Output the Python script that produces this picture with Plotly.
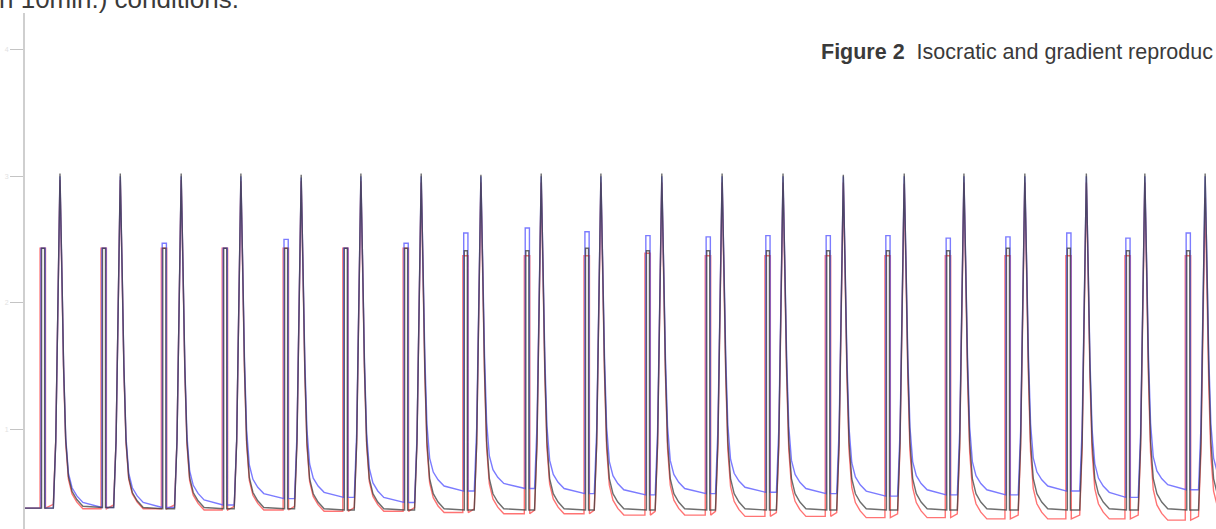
import plotly.graph_objects as go

# ---- data (time in min, detector response in AU) ----
pulse_start = [2.5, 12.6, 22.6, 32.7, 42.8, 52.7, 62.7, 72.6, 82.8, 92.7,
               102.8, 112.8, 122.7, 132.7, 142.6, 152.6, 162.5, 172.6, 182.4, 192.4]
peak_time = [5.8, 15.8, 25.9, 35.8, 45.8, 55.7, 65.7, 75.6, 85.6, 95.5,
             105.6, 115.6, 125.7, 135.7, 145.8, 155.7, 165.8, 176.0, 185.7, 195.7]

blue_pulse = [2.43, 2.43, 2.47, 2.43, 2.50, 2.43, 2.47, 2.55, 2.59, 2.56,
              2.53, 2.52, 2.53, 2.53, 2.53, 2.51, 2.52, 2.55, 2.51, 2.55]
black_pulse = [2.43, 2.43, 2.43, 2.43, 2.43, 2.43, 2.43, 2.41, 2.41, 2.43,
               2.41, 2.41, 2.41, 2.41, 2.41, 2.41, 2.43, 2.43, 2.41, 2.41]
red_pulse = [2.43, 2.43, 2.43, 2.43, 2.43, 2.43, 2.43, 2.37, 2.37, 2.37,
             2.39, 2.37, 2.37, 2.37, 2.37, 2.37, 2.37, 2.37, 2.37, 2.37]

blue_peak = [3.00, 3.00, 3.00, 3.00, 2.99, 3.00, 3.00, 3.00, 3.00, 3.00,
             3.00, 3.00, 3.00, 3.00, 3.00, 3.00, 3.00, 3.00, 3.00, 3.00]
black_peak = [3.02, 3.02, 3.02, 3.02, 3.01, 3.02, 3.02, 3.01, 3.02, 3.02,
              3.02, 3.02, 3.02, 3.01, 3.02, 3.02, 3.02, 3.02, 3.02, 3.02]
red_peak = [2.97, 2.97, 2.97, 2.96, 2.96, 2.96, 2.95, 2.95, 2.95, 2.95,
            2.95, 2.95, 2.95, 2.95, 2.94, 2.95, 2.95, 2.95, 2.95, 2.83]

blue_base = [0.38, 0.38, 0.40, 0.45, 0.46, 0.42, 0.51, 0.53, 0.49, 0.48,
             0.49, 0.50, 0.49, 0.47, 0.48, 0.48, 0.51, 0.46, 0.52, 0.51]
black_base = [0.38, 0.37, 0.37, 0.37, 0.36, 0.36, 0.36, 0.36, 0.36, 0.36,
              0.36, 0.36, 0.36, 0.36, 0.36, 0.36, 0.36, 0.36, 0.36, 0.36]
red_base = [0.37, 0.37, 0.36, 0.36, 0.35, 0.35, 0.34, 0.33, 0.33, 0.32,
            0.32, 0.31, 0.31, 0.30, 0.30, 0.29, 0.29, 0.29, 0.28, 0.28]

start_level = [0.375, 0.375, 0.375]          # blue, black, red
pre_peak_step = [0.0, 0.0, 0.03]             # small rise before each peak
tail_hold = [0.04, 0.01, 0.0]                # level just after the tail
pulse_offset = [0.15, 0.25, 0.0]
pulse_width = [0.7, 0.5, 0.9]

# peak profile read from one injection (offset from apex in min, fraction of height)
lead_off = [-1.1, -0.7, -0.35, 0.0]
lead_frac = [0.0, 0.2, 0.62, 1.0]
tail_off = [0.3, 0.6, 0.95, 1.4, 2.0, 2.8, 3.8]
tail_frac = [0.72, 0.42, 0.2, 0.09, 0.045, 0.02, 0.0]

x_end = 197.5


def build(k, pulses, peaks, bases):
    xs, ys = [0.0], [start_level[k]]
    pre = start_level[k]
    for i in range(len(pulse_start)):
        ps = pulse_start[i] + pulse_offset[k]
        w = pulse_width[k]
        xs += [ps, ps, ps + w, ps + w]
        ys += [pre, pulses[i], pulses[i], pre]
        low = pre + pre_peak_step[k]
        for o, f in zip(lead_off, lead_frac):
            xs.append(peak_time[i] + o)
            ys.append(low + f * (peaks[i] - low))
        hold = bases[i] + tail_hold[k]
        for o, f in zip(tail_off, tail_frac):
            xs.append(peak_time[i] + o)
            ys.append(hold + f * (peaks[i] - hold))
        pre = bases[i]
    xs.append(x_end + 5)
    ys.append(pre)
    return xs, ys


fig = go.Figure()
series = [
    ("red", 2, red_pulse, red_peak, red_base, "rgba(255,80,80,0.8)"),
    ("blue", 0, blue_pulse, blue_peak, blue_base, "rgba(90,90,255,0.8)"),
    ("black", 1, black_pulse, black_peak, black_base, "rgba(60,60,60,0.75)"),
]
for name, k, pu, pk, ba, col in series:
    x, y = build(k, pu, pk, ba)
    fig.add_trace(go.Scatter(x=x, y=y, mode="lines", name=name,
                             line=dict(color=col, width=1.4), hoverinfo="skip"))

fig.update_layout(
    width=1216, height=529,
    margin=dict(l=25, r=0, t=13, b=0, autoexpand=False),
    paper_bgcolor="white", plot_bgcolor="white",
    showlegend=False,
    font=dict(family="Liberation Sans, Arial, sans-serif"),
    xaxis=dict(range=[0, x_end], visible=False, showgrid=False, zeroline=False,
               automargin=False),
    yaxis=dict(range=[0.21, 4.29], showgrid=False, zeroline=False, automargin=False,
               showline=True, linecolor="#cfcfcf", linewidth=2,
               ticks="outside", ticklen=13, tickcolor="#c4c4c4", tickwidth=1,
               tickvals=[1, 2, 3, 4], ticktext=["1", "2", "3", "4"],
               tickfont=dict(size=7, color="#e2e2e2")),
    annotations=[
        dict(text="n 10min.) conditions.", xref="paper", yref="paper",
             x=-28 / 1191, y=1.028, xanchor="left", yanchor="middle",
             showarrow=False, font=dict(size=26, color="#3a3a3a")),
        dict(text="<b>Figure 2</b>&nbsp;&nbsp;Isocratic and gradient reproduc",
             xref="paper", yref="paper", x=(819 - 25) / 1191, y=0.924,
             xanchor="left", yanchor="middle", showarrow=False,
             font=dict(size=21.5, color="#3a3a3a")),
    ],
)

fig.write_html("out.html", config={"displayModeBar": False},
               post_script="document.body.style.margin='0';document.body.style.overflow='hidden';")
